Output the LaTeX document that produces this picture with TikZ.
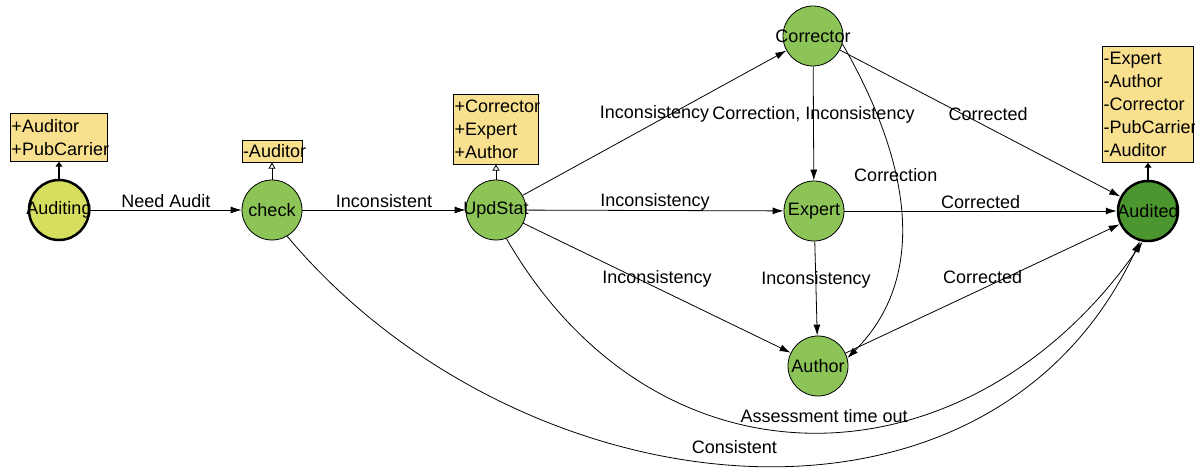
\documentclass[tikz,border=0pt]{standalone}
\usepackage{fontspec}
\setmainfont{Liberation Sans}
\usepackage{xcolor}
\usepackage{tikz}
\usetikzlibrary{arrows.meta, positioning}
\definecolor{rolefill}{RGB}{248,224,142}
\definecolor{stategreen}{RGB}{140,196,88}
\definecolor{auditingfill}{RGB}{214,222,96}
\definecolor{auditedfill}{RGB}{76,150,48}
\newcommand{\diafont}{\fontsize{18}{23}\selectfont}
\newcommand{\rolefont}{\diafont\exhyphenpenalty=10000 \hyphenpenalty=10000 }
\tikzstyle{state} = [circle, draw=black, line width=0.8pt, fill=stategreen, minimum size=60pt, inner sep=0pt]
\tikzstyle{endstate} = [state, line width=2.5pt]
\tikzstyle{rolebox} = [rectangle, draw=black, line width=0.8pt, fill=rolefill, align=left, inner xsep=1pt, inner ysep=1pt, font=\rolefont]
\tikzstyle{arrow} = [line width=0.8pt, -{Latex[length=11pt,width=7pt]}]
\tikzstyle{tie} = [line width=0.8pt, -{Triangle[open,length=6pt,width=7pt]}]
\tikzstyle{boldtie} = [line width=2.5pt, -{Triangle[length=5pt,width=7pt]}]
\tikzstyle{lbl} = [font=\diafont, inner sep=1pt, yshift=9pt]
\tikzstyle{oncurve} = [font=\diafont, inner sep=1pt]

\begin{document}
\begin{tikzpicture}[x=1pt, y=1pt, every label/.style={font=\diafont, inner sep=0pt}]
\fill[white] (0,0) rectangle (1195,-470);
\useasboundingbox (0,0) rectangle (1195,-470);

% states
\node[endstate, fill=auditingfill, label=center:Auditing] (auditing) at (59,-210) {};
\node[state, label=center:check] (check) at (272,-210) {};
\node[state, label=center:UpdStat] (updstat) at (496,-210) {};
\node[state, label=center:Corrector] (corrector) at (813,-36) {};
\node[state, label=center:Expert] (expert) at (814,-211) {};
\node[state, label=center:Author] (author) at (818,-366) {};
\node[endstate, fill=auditedfill, label=center:Audited] (audited) at (1148,-211) {};

% role boxes
\node[rolebox, text width=95pt, minimum height=48pt, above=17pt of auditing] (auditingroles) {+Auditor\\+PubCarrier};
\node[rolebox, text width=58pt, minimum height=22pt, above=17pt of check] (checkroles) {-Auditor};
\node[rolebox, text width=83pt, minimum height=70pt, above=15pt of updstat] (updstatroles) {+Corrector\\+Expert\\+Author};
\node[rolebox, text width=89pt, minimum height=116pt, above=17pt of audited] (auditedroles) {-Expert\\-Author\\-Corrector\\-PubCarrier\\-Auditor};

\draw[boldtie] (auditing) -- (auditingroles);
\draw[tie] (check) -- (checkroles);
\draw[tie] (updstat) -- (updstatroles);
\draw[boldtie] (audited) -- (auditedroles);

% transitions
\draw[arrow] (auditing) -- node[lbl] {Need Audit} (check);
\draw[arrow] (check) -- node[lbl] {Inconsistent} (updstat);
\draw[arrow] (updstat) -- node[lbl] {Inconsistency} (corrector);
\draw[arrow] (updstat) -- node[lbl] {Inconsistency} (expert);
\draw[arrow] (updstat) -- node[lbl] {Inconsistency} (author);
\draw[arrow] (corrector) -- node[lbl] {Correction, Inconsistency} (expert);
\draw[arrow] (expert) -- node[lbl] {Inconsistency} (author);
\draw[arrow] (corrector.-15) to[out=-60, in=45] node[oncurve, pos=0.4] {Correction} (author.15);
\draw[arrow] (corrector) -- node[lbl, xshift=8pt] {Corrected} (audited);
\draw[arrow] (expert) -- node[lbl] {Corrected} (audited);
\draw[arrow] (author) -- node[lbl, yshift=3pt] {Corrected} (audited);
\draw[arrow] (updstat.-70) to[out=-60, in=-125, looseness=1.22] node[lbl, yshift=7pt, xshift=8pt] {Assessment time out} (audited.-100);
\draw[arrow] (check.-60) to[out=-50, in=-115, looseness=1.08] node[lbl, yshift=9pt, xshift=-9pt] {Consistent} (audited.-105);
\end{tikzpicture}
\end{document}
